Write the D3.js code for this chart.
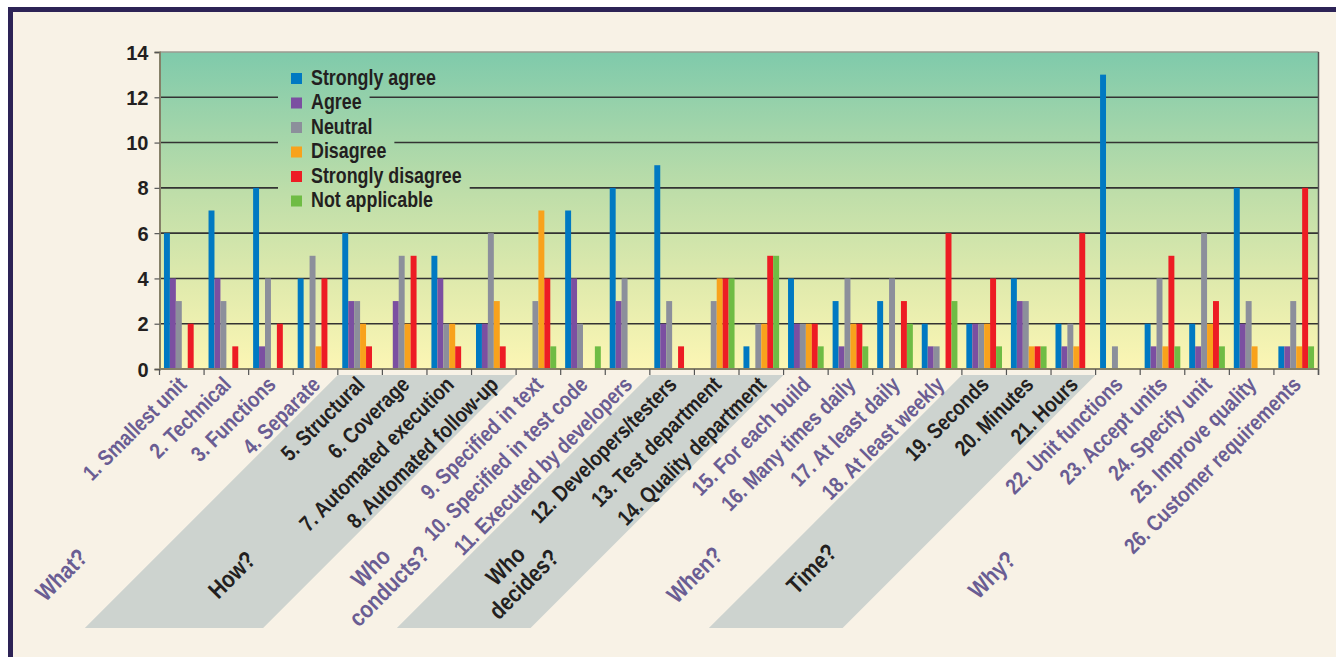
<!DOCTYPE html>
<html>
<head>
<meta charset="utf-8">
<script src="https://cdn.jsdelivr.net/npm/d3@7"></script>
<style>
  body { margin: 0; background: #fff; }
  svg text { font-family: 'Liberation Sans', Arial, sans-serif; font-weight: bold; }
</style>
</head>
<body>
<svg width="1336" height="657"></svg>
<script>
const categories = [
  '1. Smallest unit', '2. Technical', '3. Functions', '4. Separate',
  '5. Structural', '6. Coverage', '7. Automated execution', '8. Automated follow-up',
  '9. Specified in text', '10. Specified in test code', '11. Executed by developers',
  '12. Developers/testers', '13. Test department', '14. Quality department',
  '15. For each build', '16. Many times daily', '17. At least daily', '18. At least weekly',
  '19. Seconds', '20. Minutes', '21. Hours',
  '22. Unit functions', '23. Accept units', '24. Specify unit', '25. Improve quality', '26. Customer requirements'
]
const seriesNames = ['Strongly agree', 'Agree', 'Neutral', 'Disagree', 'Strongly disagree', 'Not applicable']
const seriesColors = ['#0079c2', '#7b4fa1', '#8c8f9b', '#f8a21c', '#ed1c24', '#6fbc44']

const stronglyAgree = [6, 7, 8, 4, 6, 0, 5, 2, 0, 7, 8, 9, 0, 1, 4, 3, 3, 2, 2, 4, 2, 13, 2, 2, 8, 1]
const agree = [4, 4, 1, 0, 3, 3, 4, 2, 0, 4, 3, 2, 0, 0, 2, 1, 0, 1, 2, 3, 1, 0, 1, 1, 2, 1]
const neutral = [3, 3, 4, 5, 3, 5, 2, 6, 3, 2, 4, 3, 3, 2, 2, 4, 4, 1, 2, 3, 2, 1, 4, 6, 3, 3]
const disagree = [0, 0, 0, 1, 2, 2, 2, 3, 7, 0, 0, 0, 4, 2, 2, 2, 0, 0, 2, 1, 1, 0, 1, 2, 1, 1]
const stronglyDisagree = [2, 1, 2, 4, 1, 5, 1, 1, 4, 0, 0, 1, 4, 5, 2, 2, 3, 6, 4, 1, 6, 0, 5, 3, 0, 8]
const notApplicable = [0, 0, 0, 0, 0, 0, 0, 0, 1, 1, 0, 0, 4, 5, 1, 1, 2, 3, 1, 1, 0, 0, 1, 1, 0, 1]

const yTicks = [0, 2, 4, 6, 8, 10, 12, 14]

// question groups under the axis; shaded ones get a grey band
const groupLabels = [['What?'], ['How?'], ['Who', 'conducts?'], ['Who', 'decides?'], ['When?'], ['Time?'], ['Why?']]
const groupFirst = [0, 4, 8, 11, 14, 18, 21]
const groupLast = [3, 7, 10, 13, 17, 20, 25]
const groupShaded = [false, true, false, true, false, true, false]
const groupNudgeX = [13, 5, -3, -2, 22, -17, -15]
const groupNudgeY = [0, 0, 2, 0, 0, -6, 0]

const allSeries = [stronglyAgree, agree, neutral, disagree, stronglyDisagree, notApplicable]

const purple = '#6a5d93'
const ink = '#231f20'
// no condensed face installed, so squeeze the bold sans horizontally
const squeeze = 0.84

const svg = d3.select('svg')

const plotLeft = 159.5
const plotRight = 1318.5
const plotTop = 52
const plotBottom = 369

// panel with navy top / left rule
svg.append('rect').attr('x', 8).attr('y', 7).attr('width', 1328).attr('height', 650).attr('fill', '#f8f2e6')
svg.append('rect').attr('x', 8).attr('y', 7).attr('width', 1328).attr('height', 5).attr('fill', '#2d2356')
svg.append('rect').attr('x', 8).attr('y', 7).attr('width', 5).attr('height', 650).attr('fill', '#2d2356')

const x0 = d3.scaleBand()
  .domain(categories)
  .range([plotLeft, plotRight])
  .paddingInner(0.2)
  .paddingOuter(0.1)

const x1 = d3.scaleBand()
  .domain(seriesNames)
  .range([0, x0.bandwidth()])

const y = d3.scaleLinear()
  .domain([0, 14])
  .range([plotBottom, plotTop])

const boundary = (i) => plotLeft + i * x0.step()
const colorOf = (i) => {
  const g = groupFirst.findIndex((f, k) => i >= f && i <= groupLast[k])
  return groupShaded[g] ? ink : purple
}

const defs = svg.append('defs')
const grad = defs.append('linearGradient')
  .attr('id', 'bg')
  .attr('gradientUnits', 'userSpaceOnUse')
  .attr('x1', 0).attr('y1', plotTop)
  .attr('x2', 0).attr('y2', plotBottom)
grad.append('stop').attr('offset', '0%').attr('stop-color', '#7fcaab')
grad.append('stop').attr('offset', '45%').attr('stop-color', '#bfdea9')
grad.append('stop').attr('offset', '75%').attr('stop-color', '#e2ebad')
grad.append('stop').attr('offset', '100%').attr('stop-color', '#fcf6b4')

// grey bands behind the shaded question groups
const drop = 628 - 375
groupFirst.forEach((f, k) => {
  if (!groupShaded[k]) return
  const a = boundary(f)
  const b = boundary(groupLast[k] + 1)
  svg.append('path')
    .attr('d', `M${a},375 L${b},375 L${b - drop},628 L${a - drop},628 Z`)
    .attr('fill', '#cdd3cf')
})

svg.append('rect')
  .attr('x', plotLeft).attr('y', plotTop)
  .attr('width', plotRight - plotLeft).attr('height', plotBottom - plotTop)
  .attr('fill', 'url(#bg)')

// gridlines
svg.append('g')
  .selectAll('line')
  .data(yTicks.filter((t) => t > 0 && t < 14))
  .join('line')
  .attr('x1', plotLeft).attr('x2', plotRight)
  .attr('y1', (d) => y(d)).attr('y2', (d) => y(d))
  .attr('stroke', '#333')
  .attr('stroke-width', 1.6)

svg.append('line').attr('x1', plotLeft).attr('x2', plotRight).attr('y1', plotTop).attr('y2', plotTop)
  .attr('stroke', '#9b9a90').attr('stroke-width', 1.5)
svg.append('line').attr('x1', plotRight).attr('x2', plotRight).attr('y1', plotTop).attr('y2', plotBottom + 6)
  .attr('stroke', '#555').attr('stroke-width', 1.5)

// legend, each row masks the gridlines behind it
const legendSqueeze = 0.83
const legend = svg.append('g')
seriesNames.forEach((name, i) => {
  const base = 84.5 + i * 24.5
  const row = legend.append('g')
  const mask = row.append('rect')
  const label = row.append('text')
    .attr('transform', `translate(311,${base}) scale(${legendSqueeze},1)`)
    .attr('font-size', 21.5)
    .attr('fill', ink)
    .text(name)
  const w = label.node().getComputedTextLength() * legendSqueeze
  mask.attr('x', 278).attr('y', base - 18).attr('width', 311 + w + 8 - 278).attr('height', 24.5)
    .attr('fill', 'url(#bg)')
  row.append('rect')
    .attr('x', 291).attr('y', base - 11.5)
    .attr('width', 11).attr('height', 11)
    .attr('fill', seriesColors[i])
})

// bars
const barGroups = svg.append('g')
  .selectAll('g')
  .data(categories)
  .join('g')
  .attr('transform', (d) => `translate(${x0(d)},0)`)

barGroups.selectAll('rect')
  .data((d, i) => allSeries.map((s, k) => ({ name: seriesNames[k], value: s[i], color: seriesColors[k] })))
  .join('rect')
  .attr('x', (d) => x1(d.name))
  .attr('y', (d) => y(d.value))
  .attr('width', x1.bandwidth())
  .attr('height', (d) => y(0) - y(d.value))
  .attr('fill', (d) => d.color)

// y axis
const yAxis = svg.append('g')
  .attr('transform', `translate(${plotLeft},0)`)
  .call(d3.axisLeft(y).tickValues(yTicks).tickSize(5).tickPadding(6))
yAxis.select('.domain').attr('stroke', '#858068').attr('stroke-width', 2)
yAxis.selectAll('.tick line').attr('stroke', '#555').attr('stroke-width', 1.2)
yAxis.selectAll('.tick text')
  .attr('font-family', "'Liberation Sans', Arial, sans-serif")
  .attr('font-size', 20)
  .attr('fill', ink)
  .attr('dy', '0.35em')

// x axis line and boundary ticks
svg.append('line').attr('x1', plotLeft).attr('x2', plotRight).attr('y1', plotBottom).attr('y2', plotBottom)
  .attr('stroke', '#858068').attr('stroke-width', 2)
svg.append('g')
  .selectAll('line')
  .data(d3.range(categories.length + 1))
  .join('line')
  .attr('x1', (d) => boundary(d)).attr('x2', (d) => boundary(d))
  .attr('y1', plotBottom).attr('y2', plotBottom + 6)
  .attr('stroke', '#555').attr('stroke-width', 1.2)

// rotated category labels
svg.append('g')
  .selectAll('text')
  .data(categories)
  .join('text')
  .attr('transform', (d) => `translate(${x0(d) + x0.bandwidth() / 2 + 6},${plotBottom + 17}) rotate(-45) scale(${squeeze},1)`)
  .attr('text-anchor', 'end')
  .attr('font-size', 22)
  .attr('fill', (d, i) => colorOf(i))
  .text((d) => d)

// group labels
groupLabels.forEach((lines, k) => {
  const cx = (boundary(groupFirst[k]) + boundary(groupLast[k] + 1)) / 2 - 200 + groupNudgeX[k]
  const t = svg.append('text')
    .attr('transform', `translate(${cx},${575 + groupNudgeY[k]}) rotate(-45) scale(${squeeze},1)`)
    .attr('text-anchor', 'middle')
    .attr('font-size', 24)
    .attr('fill', groupShaded[k] ? ink : purple)
  lines.forEach((line, j) => {
    t.append('tspan')
      .attr('x', 0)
      .attr('y', lines.length === 1 ? 8 : -5 + j * 26)
      .text(line)
  })
})
</script>
</body>
</html>
